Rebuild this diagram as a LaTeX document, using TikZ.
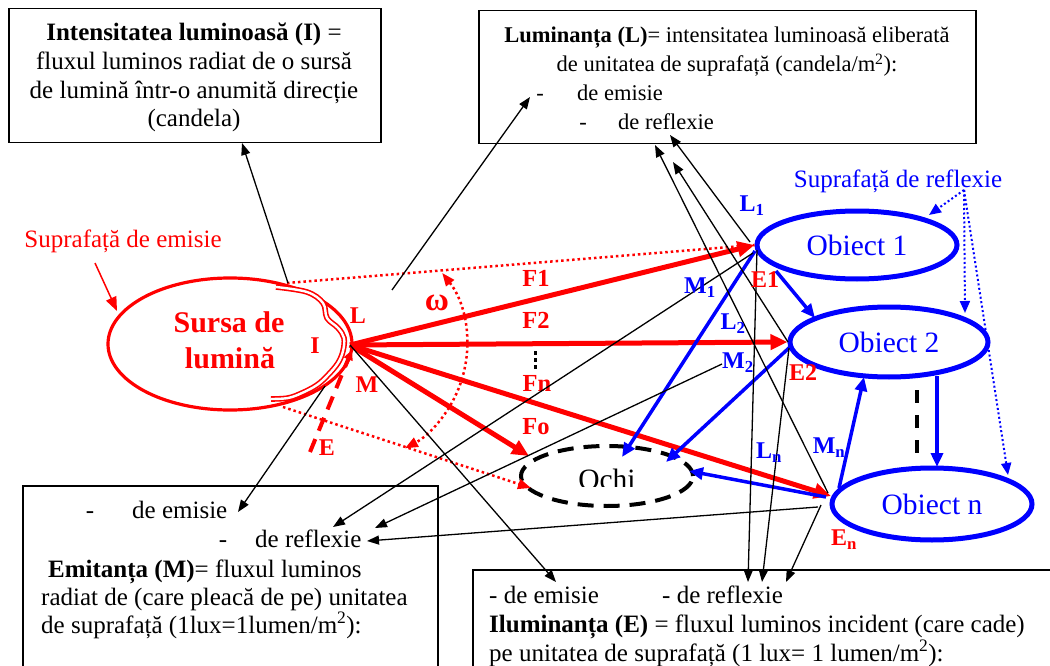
\documentclass[tikz,border=0pt]{standalone}
\usepackage{fontspec}
\setmainfont{Liberation Serif}
\usetikzlibrary{arrows.meta,shapes.geometric}
\begin{document}
\begin{tikzpicture}[x=1pt,y=-1pt,
  box/.style={draw=black,line width=1.5pt,inner sep=0pt,anchor=north west},
  txt/.style={inner sep=0pt,anchor=base,font=\fontsize{25}{28.75}\selectfont},
  txtl/.style={txt,anchor=base west},
  ltxt/.style={inner sep=0pt,anchor=base,font=\fontsize{22.5}{26}\selectfont},
  ltxtl/.style={ltxt,anchor=base west},
  conn/.style={draw=black,line width=1.3pt,-{Triangle[length=12pt,width=9pt]}},
  flux/.style={draw=red,line width=5pt,-{Triangle[length=17pt,width=15pt]}},
  refl/.style={draw=blue,line width=3.5pt,-{Triangle[length=14pt,width=12pt]}},
  rdot/.style={draw=red,line width=2.5pt,dash pattern=on 2.5pt off 3pt},
  bdot/.style={draw=blue,line width=2pt,dash pattern=on 2pt off 2.5pt,-{Triangle[length=12pt,width=10pt]}},
  obj/.style={ellipse,draw=blue,line width=5pt,inner sep=0pt,text=blue,font=\fontsize{29.5}{32}\selectfont},
  rlab/.style={text=red,font=\bfseries\fontsize{24}{27}\selectfont,inner sep=0pt},
  blab/.style={text=blue,font=\bfseries\fontsize{24}{27}\selectfont,inner sep=0pt},
  flab/.style={text=red,font=\bfseries\fontsize{24.5}{27}\selectfont,inner sep=0pt},
]
\useasboundingbox (0,0) rectangle (1050,666);
\clip (0,0) rectangle (1050,666);

% ---------- boxes ----------
\node[box,minimum width=372pt,minimum height=134pt] (boxI) at (8,8) {};
\node[txt] (i1) at (194,41) {\textbf{Intensitatea luminoasă (I)} =};
\node[txt] (i2) at (194,70) {fluxul luminos radiat de o sursă};
\node[txt] (i3) at (194,99) {de lumină într-o anumită direcție};
\node[txt] (i4) at (194,127) {(candela)};

\node[box,minimum width=497pt,minimum height=133pt] (boxL) at (478,10) {};
\node[ltxt] (l1) at (727,43) {\textbf{Luminanța (L)}= intensitatea luminoasă eliberată};
\node[ltxt] (l2) at (727,72) {de unitatea de suprafață (candela/m\textsuperscript{2}):};
\node[ltxt] (l3d) at (540,101) {-};
\node[ltxtl] (l3) at (577,101) {de emisie};
\node[ltxt] (l4d) at (583,130) {-};
\node[ltxtl] (l4) at (618,130) {de reflexie};

\node[box,minimum width=415pt,minimum height=220pt] (boxM) at (22,485) {};
\node[txt] (m1d) at (90,518) {-};
\node[txtl] (m1) at (132,518) {de emisie};
\node[txt] (m2d) at (223,547) {-};
\node[txtl] (m2) at (255,547) {de reflexie};
\node[txtl] (m3) at (48,577) {\textbf{Emitanța (M)}= fluxul luminos};
\node[txtl] (m4) at (41,605) {radiat de (care pleacă de pe) unitatea};
\node[txtl] (m5) at (41,633) {de suprafață (1lux=1lumen/m\textsuperscript{2}):};

\node[box,minimum width=600pt,minimum height=200pt] (boxE) at (472,569) {};
\node[txtl] (e1) at (489,603) {- de emisie};
\node[txtl] (e2) at (662,603) {- de reflexie};
\node[txtl] (e3) at (489,632) {\textbf{Iluminanța (E)} = fluxul luminos incident (care cade)};
\node[txtl] (e4) at (489,661) {pe unitatea de suprafață (1 lux= 1 lumen/m\textsuperscript{2}):};

% ---------- light source ----------
\node[ellipse,draw=red,line width=3.2pt,minimum width=244pt,minimum height=132pt,inner sep=0pt] (src) at (230,344) {};
\node[text=red,font=\bfseries\fontsize{30}{34}\selectfont,inner sep=0pt,anchor=base] (srcT1) at (229,332) {Sursa de};
\node[text=red,font=\bfseries\fontsize{30}{34}\selectfont,inner sep=0pt,anchor=base] (srcT2) at (230,368) {lumină};
\draw[red,line width=1.6pt,double=white,double distance=2.4pt]
  plot[smooth,tension=0.6] coordinates {(276,287) (307,292) (323,303) (327,318) (338,328) (344,338) (343,351) (338,363) (328,375) (317,385) (302,393) (288,398) (271,399)};
\coordinate (S) at (350,345);
\coordinate (srcTop) at (287,283);
\coordinate (srcBot) at (283,407);
\coordinate (srcM) at (325,386);

\node[text=red,font=\fontsize{25}{28}\selectfont,inner sep=0pt,anchor=base] (supE) at (123,247) {Suprafață de emisie};
\coordinate (supEa) at (95,263);
\coordinate (supEb) at (117,311);
\draw[red,line width=1.5pt,-{Triangle[length=14pt,width=11pt]}] (supEa) -- (supEb);

% ---------- objects ----------
\node[obj,minimum width=200pt,minimum height=68pt] (o1) at (857,245) {Obiect 1};
\node[obj,minimum width=198pt,minimum height=70pt] (o2) at (889,342) {Obiect 2};
\node[obj,minimum width=200pt,minimum height=72pt] (on) at (932,504) {Obiect n};
\node[ellipse,draw=black,line width=4pt,dash pattern=on 16pt off 10pt,minimum width=172pt,minimum height=60pt,inner sep=0pt] (ochi) at (607,476) {};
\begin{scope}
\clip (550,440) rectangle (670,486);
\node[font=\fontsize{29.5}{32}\selectfont,inner sep=0pt,anchor=base] (ochiT) at (607,489) {Ochi};
\end{scope}

\node[text=blue,font=\fontsize{25}{28}\selectfont,inner sep=0pt,anchor=base] (supR) at (898,188) {Suprafață de reflexie};
\coordinate (reflP) at (964,190);
\coordinate (o1t) at (929,215);
\coordinate (o2t) at (965,313);
\coordinate (ont) at (1008,475);
\draw[bdot] (reflP) -- (o1t);
\draw[bdot] (reflP) -- (o2t);
\draw[bdot] (reflP) -- (ont);

% ---------- fluxes ----------
\coordinate (onW) at (831,496);
\coordinate (ochiF) at (529,456);
\coordinate (ochiD) at (531,488);
\draw[rdot] (srcTop) -- (o1.west);
\draw[rdot,-{Triangle[length=13pt,width=10pt]}] (srcBot) -- (ochiD);
\draw[red,line width=2.5pt,dash pattern=on 2.5pt off 3pt,{Triangle[length=13pt,width=10pt]}-{Triangle[length=13pt,width=10pt]}]
  (S) ++(-38:117) arc[start angle=-38,end angle=62,radius=117];
\draw[flux] (S) -- (o1.west);
\draw[flux] (S) -- (o2.west);
\draw[flux] (S) -- (onW);
\draw[flux] (S) -- (ochiF);

\coordinate (Etop) at (352,350);
\coordinate (Ebot) at (310,452);
\draw[red,line width=4pt,dash pattern=on 14pt off 9pt,-{Triangle[length=10pt,width=9pt]}] (Ebot) -- (Etop);

\node[flab] (F1) at (536,278) {F1};
\node[flab] (F2) at (536,320) {F2};
\node[flab] (Fn) at (537,383) {Fn};
\node[flab] (Fo) at (536,427) {Fo};
\fill[black] (533.5,351) rectangle (537,355);
\fill[black] (533.5,358) rectangle (537,362);
\fill[black] (533.5,365) rectangle (537,369);
\node[rlab,font=\bfseries\fontsize{33}{36}\selectfont] (om) at (437,303) {ω};
\node[rlab] (lL) at (358,316) {L};
\node[rlab] (lI) at (315,346) {I};
\node[rlab] (lM) at (367,385) {M};
\node[rlab] (lE) at (327,448) {E};

% ---------- reflections (blue) ----------
\coordinate (o1a) at (755,251);
\coordinate (o1b) at (776,271);
\coordinate (o2a) at (790,347);
\coordinate (o2b) at (815,318);
\coordinate (o2c) at (864,377);
\coordinate (o2d) at (937,376);
\coordinate (ona) at (826,497);
\coordinate (onb) at (839,488);
\coordinate (ont2) at (937,467);
\coordinate (ochi1) at (622,457);
\coordinate (ochi2) at (666,462);
\coordinate (ochi3) at (689,471);
\draw[refl] (o1a) -- (ochi1);
\draw[refl] (o1b) -- (o2b);
\draw[refl] (o2a) -- (ochi2);
\draw[refl] (ona) -- (ochi3);
\draw[refl] (onb) -- (o2c);
\draw[refl] (o2d) -- (ont2);
\draw[black,line width=4pt,dash pattern=on 13pt off 12pt] (917,390) -- (917,458);

% ---------- thin black connectors ----------
\coordinate (cI) at (288,283);
\coordinate (cIend) at (242,143);
\coordinate (cL) at (392,290);
\coordinate (cLend) at (530,97);
\coordinate (cMend) at (238,512);
\coordinate (cEend) at (556,582);
\coordinate (M1s) at (753,253);
\coordinate (M1e) at (333,527);
\coordinate (M2s) at (722,364);
\coordinate (M2e) at (375,528);
\coordinate (Mns) at (818,507);
\coordinate (Mne) at (367,541);
\coordinate (L1s) at (750,242);
\coordinate (L1e) at (670,135);
\coordinate (L2s) at (788,342);
\coordinate (L2e) at (673,162);
\coordinate (Lns) at (828,493);
\coordinate (Lne) at (655,145);
\coordinate (E1s) at (757,250);
\coordinate (E1e) at (748,582);
\coordinate (E2s) at (789,348);
\coordinate (E2e) at (762,582);
\coordinate (Ens) at (821,505);
\coordinate (Ene) at (786,582);
\draw[conn] (cI) -- (cIend);
\draw[conn] (cL) -- (cLend);
\draw[conn] (srcM) -- (cMend);
\draw[conn] (S) -- (cEend);
\draw[conn] (M1s) -- (M1e);
\draw[conn] (M2s) -- (M2e);
\draw[conn] (Mns) -- (Mne);
\draw[conn] (L1s) -- (L1e);
\draw[conn] (L2s) -- (L2e);
\draw[conn] (Lns) -- (Lne);
\draw[conn] (E1s) -- (E1e);
\draw[conn] (E2s) -- (E2e);
\draw[conn] (Ens) -- (Ene);

% ---------- labels ----------
\node[blab] (bL1) at (752,206) {L\textsubscript{1}};
\node[blab] (bM1) at (700,288) {M\textsubscript{1}};
\node[blab] (bL2) at (733,324) {L\textsubscript{2}};
\node[blab] (bM2) at (738,363) {M\textsubscript{2}};
\node[blab] (bLn) at (769,453) {L\textsubscript{n}};
\node[blab] (bMn) at (829,448) {M\textsubscript{n}};
\node[rlab] (rE1) at (765,280) {E1};
\node[rlab] (rE2) at (803,373) {E2};
\node[rlab] (rEn) at (844,540) {E\textsubscript{n}};
\end{tikzpicture}
\end{document}
